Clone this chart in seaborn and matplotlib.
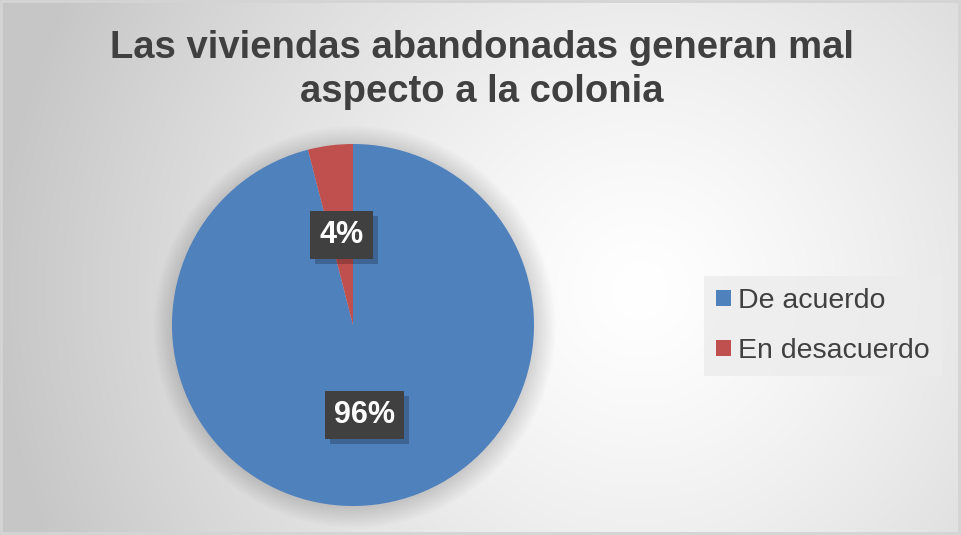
import numpy as np
import matplotlib
matplotlib.use("Agg")
import matplotlib.pyplot as plt
import seaborn as sns
from matplotlib.patches import Rectangle, Circle

categories = ["De acuerdo", "En desacuerdo"]
values = [96, 4]
pct_labels = ["96%", "4%"]
title = "Las viviendas abandonadas generan mal\naspecto a la colonia"

sns.set_style("white")
plt.rcParams['font.family'] = ['Liberation Sans', 'DejaVu Sans']
colors = ["#4F81BD", "#C0504D"]

W, H = 961, 535
fig = plt.figure(figsize=(W / 100, H / 100), dpi=100)

# background radial gradient
bg = fig.add_axes([0, 0, 1, 1])
yy, xx = np.mgrid[0:H, 0:W]
d = np.sqrt((xx - 640) ** 2 + (yy - 290) ** 2) / 640
d = np.clip(d, 0, 1)
val = 1.0 - 0.22 * d ** 1.3
bg.imshow(np.dstack([val, val, val]), extent=[0, W, H, 0], aspect='auto')
bg.set_xlim(0, W)
bg.set_ylim(H, 0)
bg.axis('off')
bg.add_patch(Rectangle((1, 1), W - 3, H - 3, fill=False, edgecolor="#d4d4d4", lw=2))

# pie axes
cx, cy, r = 353, 325, 181
ax = fig.add_axes([(cx - r) / W, (H - cy - r) / H, 2 * r / W, 2 * r / H])
ax.set_facecolor("none")
# soft shadow glow
for k in np.linspace(1.11, 1.0, 12):
    ax.add_patch(Circle((0.01, -0.01), k, color="black", alpha=0.012, lw=0,
                        zorder=0, clip_on=False))
wedges, _ = ax.pie(values, colors=colors, startangle=90, counterclock=False,
                   radius=1, wedgeprops=dict(linewidth=0))
for w in wedges:
    w.set_zorder(2)
ax.set_xlim(-1, 1)
ax.set_ylim(-1, 1)
ax.set_aspect('equal')
ax.axis('off')

# percentage labels
texts = []
start = 90
for v, lab in zip(values, pct_labels):
    mid = np.deg2rad(start - v / 100 * 360 / 2)
    start -= v / 100 * 360
    x, y = 0.5 * np.cos(mid), 0.5 * np.sin(mid)
    t = ax.text(x, y, lab, ha='center', va='center', fontsize=22, fontweight='bold',
                color='white', zorder=4,
                bbox=dict(boxstyle='square,pad=0.3', fc='#404040', ec='none'))
    texts.append(t)

# title
fig.text(482 / W, 1 - 70 / H, title, ha='center', va='center', fontsize=27.5,
         fontweight='bold', color='#404040', linespacing=1.32)

# legend
leg = fig.legend(wedges, categories, loc='center left',
                 bbox_to_anchor=(704 / W, 1 - 326 / H), fontsize=20.5,
                 frameon=True, fancybox=False, handlelength=0.52, handleheight=0.52,
                 handletextpad=0.25, labelspacing=0.85, borderpad=0.42,
                 borderaxespad=0, labelcolor='#404040')
leg.get_frame().set_facecolor('#ececec')
leg.get_frame().set_edgecolor('none')
leg.get_frame().set_alpha(0.8)

# label box shadows
fig.canvas.draw()
renderer = fig.canvas.get_renderer()
for t in texts:
    bb = t.get_bbox_patch().get_window_extent(renderer)
    shadow = Rectangle((bb.x0 + 5, bb.y0 - 5), bb.width, bb.height,
                       transform=matplotlib.transforms.IdentityTransform(),
                       fc='black', ec='none', alpha=0.22, zorder=3, clip_on=False)
    ax.add_artist(shadow)

fig.savefig("out.png", dpi=100)
